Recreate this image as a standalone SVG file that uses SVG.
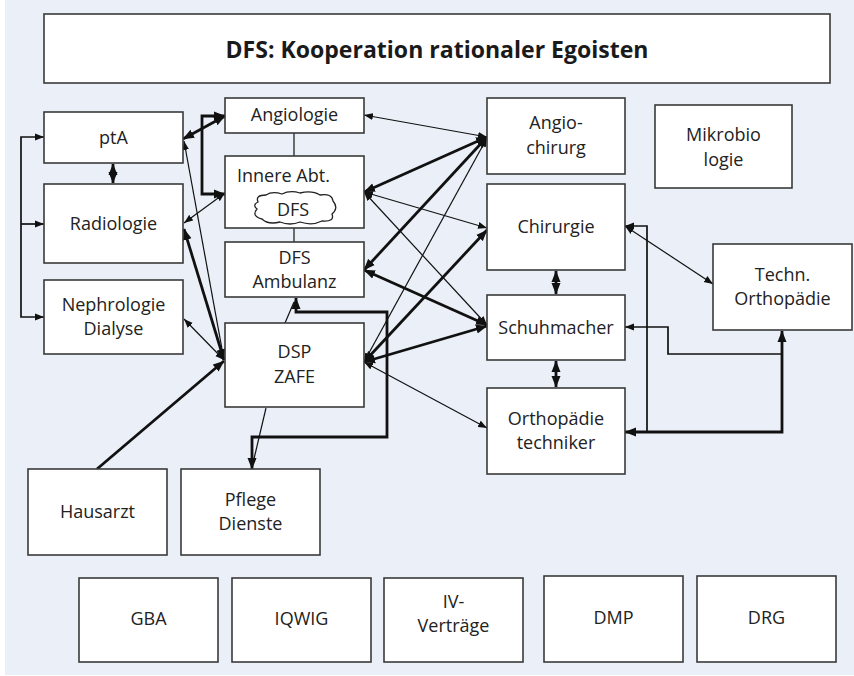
<svg xmlns="http://www.w3.org/2000/svg" width="854" height="676" viewBox="0 0 854 676">
  <defs>
    <style>
      .box { fill: #ffffff; stroke: #3a3a3a; stroke-width: 1.6; }
      .lbl { font-family: "Open Sans", "Noto Sans", "Liberation Sans", sans-serif; font-size: 18px; fill: #222222; text-anchor: middle; }
      .title { font-family: "Open Sans", "Noto Sans", "Liberation Sans", sans-serif; font-size: 24px; font-weight: bold; fill: #1a1a1a; text-anchor: middle; }
      .c { fill: none; stroke: #111111; stroke-linejoin: miter; }
      .t1 { stroke-width: 1.2; }
      .t2 { stroke-width: 1.7; }
      .t3 { stroke-width: 2.8; }
      .s { marker-end: url(#ah); }
      .sd { marker-start: url(#ah); marker-end: url(#ah); }
      .b { marker-end: url(#ahb); }
      .bd { marker-start: url(#ahb); marker-end: url(#ahb); }
    </style>
    <marker id="ah" markerUnits="userSpaceOnUse" markerWidth="10" markerHeight="8" refX="9" refY="4" orient="auto-start-reverse">
      <path d="M0,0.5 L9,4 L0,7.5 z" fill="#111111"/>
    </marker>
    <marker id="ahb" markerUnits="userSpaceOnUse" markerWidth="12" markerHeight="10" refX="11" refY="5" orient="auto-start-reverse">
      <path d="M0,0.5 L11.5,5 L0,9.5 z" fill="#111111"/>
    </marker>
  </defs>

  <!-- background panel -->
  <rect x="0" y="0" width="854" height="676" fill="#ffffff"/>
  <rect x="5" y="0" width="849" height="675" fill="#ebf0f8"/>

  <!-- heading -->
  <g id="title">
    <rect class="box" x="44" y="14" width="786" height="69"/>
    <text class="title" x="437" y="58" textLength="423" lengthAdjust="spacingAndGlyphs">DFS: Kooperation rationaler Egoisten</text>
  </g>

  <!-- connectors -->
  <g id="connectors">
    <!-- left bracket to ptA / Radiologie / Nephrologie -->
    <path class="c t2 sd" d="M44,137 H21 V317 H44"/>
    <path class="c t2 s" d="M21,224 H44"/>
    <path class="c t3 bd" d="M113,164 V183"/>

    <!-- ptA / Angiologie / Innere thick links -->
    <path class="c t3 bd" d="M183,139 L225,116"/>
    <path class="c t3 bd" d="M225,116 H202 V194 H225"/>
    <path class="c t1 sd" d="M184,223 L225,193"/>

    <!-- DSP ZAFE to the left column -->
    <path class="c t1 s" d="M224,360 L184,141"/>
    <path class="c t3 bd" d="M224,360 L184,229"/>
    <path class="c t1 sd" d="M224,360 L184,319"/>
    <path class="c t3 b" d="M97,469 L224,361"/>

    <!-- middle column links -->
    <path class="c t1" d="M294,133 V156"/>
    <path class="c t1" d="M294,228 V242"/>
    <path class="c t1" d="M285,323 L294,302"/>
    <path class="c t3 bd" d="M296,298 V312 H387 V437 H252 V469"/>
    <path class="c t1" d="M266,408 L253,463"/>

    <!-- links to Angio-chirurg -->
    <path class="c t1 sd" d="M364,115 L487,137"/>
    <path class="c t3 bd" d="M364,192 L487,137"/>
    <path class="c t3 bd" d="M364,270 L487,137"/>
    <path class="c t1 sd" d="M364,362 L487,138"/>

    <!-- links to Chirurgie / Schuhmacher / Orthopädietechniker -->
    <path class="c t1 sd" d="M364,192 L487,228"/>
    <path class="c t1 sd" d="M364,192 L487,325"/>
    <path class="c t3 bd" d="M364,270 L487,325"/>
    <path class="c t3 bd" d="M364,362 L487,230"/>
    <path class="c t3 bd" d="M364,362 L487,326"/>
    <path class="c t1 sd" d="M364,362 L487,428"/>

    <!-- right column -->
    <path class="c t3 bd" d="M556,271 V294"/>
    <path class="c t3 bd" d="M556,361 V387"/>
    <path class="c t1 sd" d="M625,226 L713,284"/>
    <path class="c t2" d="M625,226 H647 V432" style="marker-start:url(#ah)"/>
    <path class="c t3 bd" d="M625,432 H782 V331"/>
    <path class="c t2" d="M625,327 H668 V354 H782" style="marker-start:url(#ah)"/>
  </g>

  <!-- left column -->
  <g id="ptA">
    <rect class="box" x="44" y="112" width="139" height="51"/>
    <text class="lbl" x="113.5" y="144">ptA</text>
  </g>
  <g id="radiologie">
    <rect class="box" x="44" y="184" width="139" height="79"/>
    <text class="lbl" x="113.5" y="230">Radiologie</text>
  </g>
  <g id="nephrologie">
    <rect class="box" x="44" y="280" width="139" height="74"/>
    <text class="lbl" x="113.5" y="311">Nephrologie</text>
    <text class="lbl" x="113.5" y="335">Dialyse</text>
  </g>

  <!-- middle column -->
  <g id="angiologie">
    <rect class="box" x="225" y="98" width="139" height="35"/>
    <text class="lbl" x="294.5" y="121">Angiologie</text>
  </g>
  <g id="innere">
    <rect class="box" x="225" y="156" width="139" height="72"/>
    <text class="lbl" x="237" y="182" style="text-anchor:start">Innere Abt.</text>
    <path d="M258,202 Q255,195 266,195 Q272,191 282,194 Q290,190 300,193 Q312,190 320,195 Q332,193 333,201 Q339,208 332,214 Q335,222 322,221 Q312,226 300,222 Q290,226 280,222 Q268,225 262,219 Q251,216 257,209 Q252,205 258,202 Z" fill="#ffffff" stroke="#222222" stroke-width="1.3"/>
    <text class="lbl" x="293" y="216">DFS</text>
  </g>
  <g id="dfs-ambulanz">
    <rect class="box" x="225" y="242" width="139" height="55"/>
    <text class="lbl" x="294.5" y="264">DFS</text>
    <text class="lbl" x="294.5" y="288">Ambulanz</text>
  </g>
  <g id="dsp-zafe">
    <rect class="box" x="225" y="323" width="139" height="84"/>
    <text class="lbl" x="294.5" y="358">DSP</text>
    <text class="lbl" x="294.5" y="383">ZAFE</text>
  </g>
  <g id="hausarzt">
    <rect class="box" x="28" y="469" width="139" height="86"/>
    <text class="lbl" x="97.5" y="518">Hausarzt</text>
  </g>
  <g id="pflege">
    <rect class="box" x="181" y="469" width="139" height="86"/>
    <text class="lbl" x="250.5" y="506">Pflege</text>
    <text class="lbl" x="250.5" y="530">Dienste</text>
  </g>

  <!-- right column -->
  <g id="angiochirurg">
    <rect class="box" x="487" y="98" width="138" height="76"/>
    <text class="lbl" x="556" y="129">Angio-</text>
    <text class="lbl" x="556" y="154">chirurg</text>
  </g>
  <g id="mikrobiologie">
    <rect class="box" x="655" y="105" width="137" height="83"/>
    <text class="lbl" x="723.5" y="141">Mikrobio</text>
    <text class="lbl" x="723.5" y="166">logie</text>
  </g>
  <g id="chirurgie">
    <rect class="box" x="487" y="184" width="138" height="86"/>
    <text class="lbl" x="556" y="233">Chirurgie</text>
  </g>
  <g id="schuhmacher">
    <rect class="box" x="487" y="295" width="138" height="65"/>
    <text class="lbl" x="556" y="334">Schuhmacher</text>
  </g>
  <g id="orthopaedietechniker">
    <rect class="box" x="487" y="388" width="138" height="86"/>
    <text class="lbl" x="556" y="425">Orthopädie</text>
    <text class="lbl" x="556" y="449">techniker</text>
  </g>
  <g id="techn-orthopaedie">
    <rect class="box" x="713" y="244" width="139" height="86"/>
    <text class="lbl" x="782.5" y="281">Techn.</text>
    <text class="lbl" x="782.5" y="305">Orthopädie</text>
  </g>

  <!-- bottom row -->
  <g id="gba">
    <rect class="box" x="79" y="578" width="139" height="84"/>
    <text class="lbl" x="148.5" y="625">GBA</text>
  </g>
  <g id="iqwig">
    <rect class="box" x="232" y="578" width="139" height="84"/>
    <text class="lbl" x="301.5" y="625">IQWIG</text>
  </g>
  <g id="iv-vertraege">
    <rect class="box" x="384" y="578" width="139" height="84"/>
    <text class="lbl" x="453.5" y="608">IV-</text>
    <text class="lbl" x="453.5" y="632">Verträge</text>
  </g>
  <g id="dmp">
    <rect class="box" x="544" y="576" width="139" height="86"/>
    <text class="lbl" x="613.5" y="624">DMP</text>
  </g>
  <g id="drg">
    <rect class="box" x="697" y="576" width="139" height="86"/>
    <text class="lbl" x="766.5" y="624">DRG</text>
  </g>
</svg>
